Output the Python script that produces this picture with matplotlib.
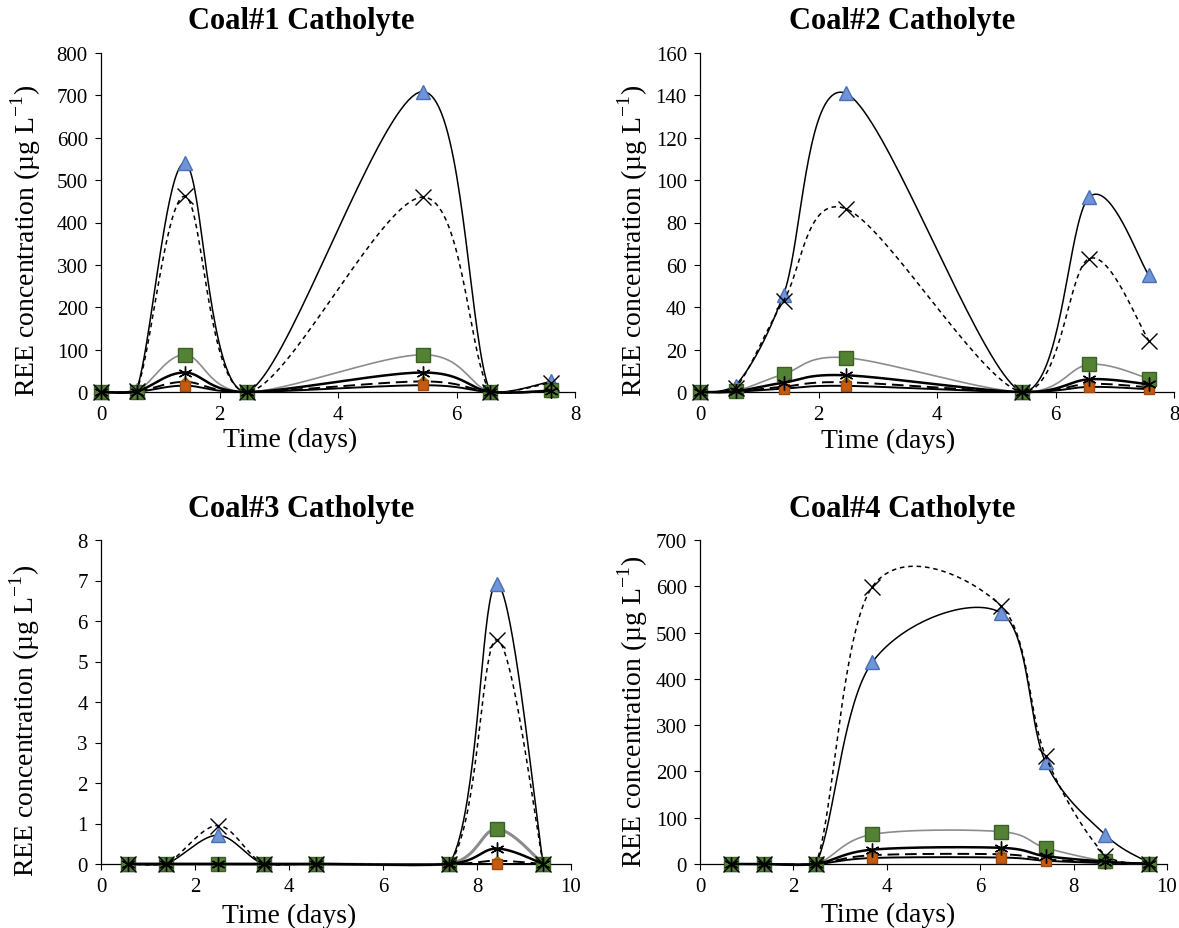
import numpy as np
import matplotlib
matplotlib.use("Agg")
import matplotlib.pyplot as plt

plt.rcParams['font.family'] = ['Liberation Serif', 'DejaVu Serif']
plt.rcParams['mathtext.fontset'] = 'custom'
plt.rcParams['mathtext.rm'] = 'Liberation Serif'

titles = ['Coal#1 Catholyte', 'Coal#2 Catholyte', 'Coal#3 Catholyte', 'Coal#4 Catholyte']

# sampling times (days)
days_1 = [0, 0.6, 1.41, 2.46, 5.43, 6.57, 7.59]
days_2 = [0, 0.6, 1.41, 2.46, 5.43, 6.57, 7.58]
days_3 = [0.58, 1.38, 2.48, 3.47, 4.58, 7.41, 8.42, 9.41]
days_4 = [0.66, 1.38, 2.48, 3.69, 6.44, 7.4, 8.68, 9.61]

# series values (ug/L), one list per marker type
tri_1 = [0, 5, 540, 0, 709, 0, 25]
cross_1 = [0, 3, 462, 0, 460, 0, 22]
sq_1 = [0, 1, 88, 0, 88, 0, 5]
star_1 = [0, 1, 46, 0, 46, 0, 3]
dia_1 = [0, 0.5, 24, 0, 25, 0, 2]
org_1 = [0, 0.3, 15, 0, 16, 0, 1]

tri_2 = [0, 3, 46, 141, 0, 92, 55]
cross_2 = [0, 2, 43, 86.5, 0, 63, 24]
sq_2 = [0, 0.5, 8.4, 16.2, 0, 13, 6.3]
star_2 = [0, 0.3, 4.4, 7.9, 0, 6, 3.6]
dia_2 = [0, 0.2, 2.5, 4.6, 0, 3.8, 2.2]
org_2 = [0, 0.1, 1.6, 2.9, 0, 2.4, 1.3]

tri_3 = [0, 0, 0.71, 0, 0, 0, 6.92, 0]
cross_3 = [0, 0, 0.95, 0, 0, 0, 5.54, 0]
sq_3 = [0, 0, 0, 0, 0, 0, 0.86, 0]
star_3 = [0, 0, 0, 0, 0, 0, 0.38, 0]
dia_3 = [0, 0, 0, 0, 0, 0, 0.08, 0]
org_3 = [0, 0, 0, 0, 0, 0, 0.0, 0]

tri_4 = [0, 0, 0, 436, 543, 220, 63, 3]
cross_4 = [0, 0, 0, 599, 558, 233, 18, 0]
sq_4 = [0, 0, 0, 64, 70, 35, 6, 0]
star_4 = [0, 0, 0, 31, 35, 17, 5, 0]
dia_4 = [0, 0, 0, 19, 21, 10, 3, 2]
org_4 = [0, 0, 0, 13, 14, 7, 2, 0]

panels = [
    (days_1, [tri_1, dia_1, org_1, sq_1, cross_1, star_1], 8, 800, 100),
    (days_2, [tri_2, dia_2, org_2, sq_2, cross_2, star_2], 8, 160, 20),
    (days_3, [tri_3, dia_3, org_3, sq_3, cross_3, star_3], 10, 8, 1),
    (days_4, [tri_4, dia_4, org_4, sq_4, cross_4, star_4], 10, 700, 100),
]

W, H = 1179, 929
# axes boxes in pixels: left, right, top, bottom
boxes = [(101, 575, 54, 393), (700, 1174, 54, 393),
         (101, 571, 541, 865), (700, 1167, 541, 865)]
title_pos = [(301, 22), (902, 22), (301, 510), (902, 510)]
xlab_pos = [(290, 440), (888, 441), (289, 916), (888, 915)]
ylab_pos = [(26, 241), (633, 241), (25, 721), (633, 712)]
gray_lw = [1.2, 1.2, 2.2, 1.2]

# style for each series: marker, size, face, edge, line colour, width, dash
styles = [
    ('^', 10, '#6f95d8', '#4a6fb5', 'black', 1.1, '-'),
    ('D', 5, '#bf9000', '#8f6c00', 'black', 1.4, (0, (6, 3))),
    ('s', 6.5, '#c55a11', '#a04a0d', 'black', 1.4, '-'),
    ('s', 10, '#548235', '#3c5f25', '#8c8c8c', 1.2, '-'),
    ('x', 11, 'black', 'black', 'black', 1.1, (0, (3, 2.5))),
    ((6, 2, 0), 10, 'black', 'black', 'black', 1.8, '-'),
]


def excel_smooth(x, y, sx, sy, n=40):
    # bezier "smoothed line" done in pixel space; control points kept
    # from dropping (much) below the zero line
    P = np.column_stack([np.asarray(x, float) * sx, np.asarray(y, float) * sy])
    m = len(P)
    cin = P.copy()
    cout = P.copy()
    for i in range(m):
        p0 = P[max(i - 1, 0)]
        p2 = P[min(i + 1, m - 1)]
        tan = (p2 - p0) / 6.0
        cin[i] = P[i] - tan
        cout[i] = P[i] + tan
    cin[:, 1] = np.maximum(cin[:, 1], -2.0)
    cout[:, 1] = np.maximum(cout[:, 1], -2.0)
    out = []
    t = np.linspace(0, 1, n)[:, None]
    for i in range(m - 1):
        p1, c1, c2, p2 = P[i], cout[i], cin[i + 1], P[i + 1]
        seg = (1 - t) ** 3 * p1 + 3 * (1 - t) ** 2 * t * c1 + 3 * (1 - t) * t ** 2 * c2 + t ** 3 * p2
        out.append(seg if i == 0 else seg[1:])
    out = np.vstack(out)
    return out[:, 0] / sx, out[:, 1] / sy


fig = plt.figure(figsize=(W / 100, H / 100), dpi=100)

for k, (days, series, xmax, ymax, ystep) in enumerate(panels):
    l, r, t, b = boxes[k]
    ax = fig.add_axes([l / W, 1 - b / H, (r - l) / W, (b - t) / H])
    ax.set_xlim(0, xmax)
    ax.set_ylim(0, ymax)
    sx = (r - l) / xmax
    sy = (b - t) / ymax
    for j, vals in enumerate(series):
        mk, ms, fc, ec, lc, lw, ls = styles[j]
        if j == 3:
            lw = gray_lw[k]
        xs, ys = excel_smooth(days, vals, sx, sy)
        ax.plot(xs, ys, color=lc, lw=lw, linestyle=ls, clip_on=False, zorder=2 + j)
        ax.plot(days, vals, linestyle='none', marker=mk, markersize=ms,
                markerfacecolor=fc, markeredgecolor=ec, markeredgewidth=1.0,
                clip_on=False, zorder=2 + j)
    ax.set_xticks(np.arange(0, xmax + 0.1, 2))
    ax.set_yticks(np.arange(0, ymax + ystep / 2, ystep))
    ax.spines['top'].set_visible(False)
    ax.spines['right'].set_visible(False)
    ax.spines['left'].set_linewidth(0.9)
    ax.spines['bottom'].set_linewidth(0.9)
    ax.tick_params(direction='out', length=4.5, width=0.8, labelsize=15, pad=5)

    fig.text(title_pos[k][0] / W, 1 - title_pos[k][1] / H, titles[k],
             fontsize=22, fontweight='bold', ha='center', va='center')
    fig.text(xlab_pos[k][0] / W, 1 - xlab_pos[k][1] / H, 'Time (days)',
             fontsize=20, ha='center', va='center')
    fig.text(ylab_pos[k][0] / W, 1 - ylab_pos[k][1] / H,
             r'REE concentration (µg L$^{\mathrm{-1}}$)',
             fontsize=20, ha='center', va='center', rotation=90)

fig.savefig('out.png', dpi=100)
